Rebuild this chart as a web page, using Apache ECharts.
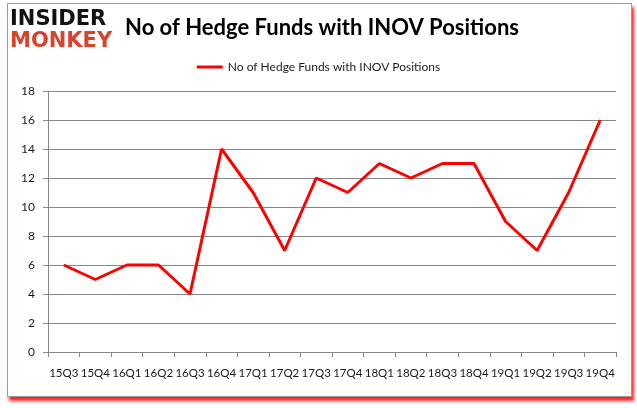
<!DOCTYPE html>
<html>
<head>
<meta charset="utf-8">
<script src="https://cdn.jsdelivr.net/npm/echarts@6/dist/echarts.min.js"></script>
<style>
html,body{margin:0;padding:0;background:#fff;}
#frame{position:absolute;left:7px;top:3px;width:623px;height:392px;border:1px solid #9a9a9a;box-shadow:2px 4px 3px #ff2020;background:#fff;}
#chart{position:absolute;left:0;top:0;width:637px;height:408px;}
</style>
</head>
<body>
<div id="frame"></div>
<div id="chart"></div>
<script>
const categories = ['15Q3','15Q4','16Q1','16Q2','16Q3','16Q4','17Q1','17Q2','17Q3','17Q4','18Q1','18Q2','18Q3','18Q4','19Q1','19Q2','19Q3','19Q4'];
const seriesName = 'No of Hedge Funds with INOV Positions';
const values = [6,5,6,6,4,14,11,7,12,11,13,12,13,13,9,7,11,16];
const yTicks = {min:0, max:18, interval:2};

const chart = echarts.init(document.getElementById('chart'), null, {renderer:'canvas'});
chart.setOption({
  backgroundColor: 'transparent',
  animation: false,
  title: {
    text: seriesName,
    left: 317, top: 12, textAlign: 'center',
    textStyle: {fontFamily: 'Lato', fontWeight: 'bold', fontSize: 22, color: '#000'}
  },
  legend: {
    data: [seriesName],
    top: 56, left: 'center',
    itemWidth: 26, itemHeight: 3,
    icon: 'rect',
    textStyle: {fontFamily: 'Lato', fontSize: 12, color: '#1a1a1a'}
  },
  graphic: [
    {type:'text', left: 10, top: 9, style:{text:'INSIDER', fontFamily:'DejaVu Sans', fontWeight:'bold', fontSize:21, fill:'#111'}},
    {type:'text', left: 10, top: 31, style:{text:'MONKEY', fontFamily:'DejaVu Sans', fontWeight:'bold', fontSize:21, fill:'#d8432e'}}
  ],
  grid: {left: 48, right: 21, top: 91, bottom: 56, containLabel: false},
  xAxis: {
    type: 'category',
    data: categories,
    boundaryGap: true,
    axisLine: {lineStyle: {color: '#888', width: 1}},
    axisTick: {show: true, length: 5, lineStyle: {color: '#888'}},
    axisLabel: {margin: 15, fontFamily: 'Lato', fontSize: 11.5, color: '#1a1a1a', interval: 0}
  },
  yAxis: {
    type: 'value',
    min: yTicks.min, max: yTicks.max, interval: yTicks.interval,
    axisLine: {show: true, lineStyle: {color: '#888', width: 1}},
    axisTick: {show: true, length: 5, lineStyle: {color: '#888'}},
    splitLine: {lineStyle: {color: '#888', width: 1}},
    axisLabel: {margin: 13, fontFamily: 'Lato', fontSize: 12, color: '#1a1a1a'}
  },
  series: [{
    name: seriesName,
    type: 'line',
    data: values,
    symbol: 'none',
    lineStyle: {color: '#ff0000', width: 3},
    itemStyle: {color: '#ff0000'}
  }]
});
</script>
</body>
</html>
